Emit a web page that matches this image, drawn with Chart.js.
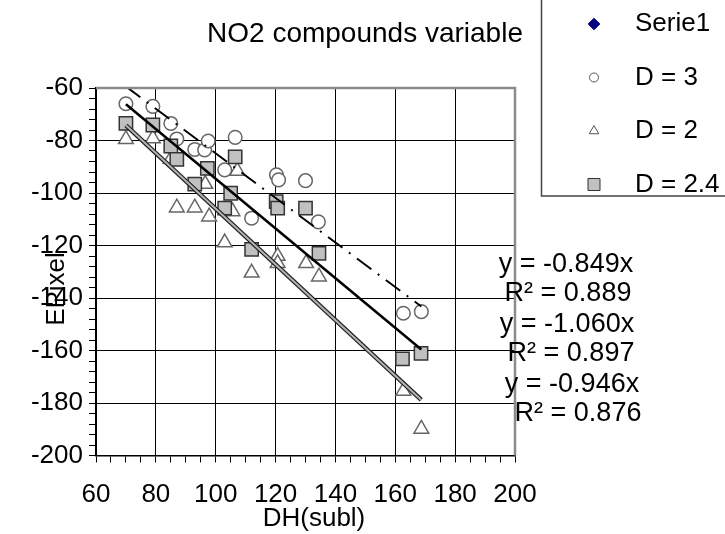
<!DOCTYPE html>
<html lang="en">
<head>
<meta charset="UTF-8">
<title>NO2 compounds variable</title>
<script src="https://cdn.jsdelivr.net/npm/chart.js"></script>
<style>
  html, body { margin: 0; padding: 0; background: #fff; }
  canvas { display: block; }
</style>
</head>
<body>
<canvas id="chart" width="725" height="534"></canvas>
<script>
// values
const xD3 = [70, 79, 85, 87, 93, 96.3, 97.5, 103, 106.5, 112, 120.3, 121, 130, 134.3, 162.7, 168.7];
const yD3 = [-66, -67, -73.5, -79.4, -83.4, -83.6, -80.2, -91.2, -78.8, -109.6, -93.1, -95, -95.3, -111, -145.8, -145.2];

const xD2 = [70, 79, 85, 87, 93, 96.5, 97.8, 103, 105.6, 107.2, 112, 120.7, 120.7, 130.2, 134.5, 162.7, 168.7];
const yD2 = [-79.5, -79.2, -87, -105.6, -105.6, -96.6, -109, -118.9, -107, -91.6, -130.4, -124, -126.8, -126.8, -131.9, -175.4, -189.9];

const xD24 = [70, 79, 85, 87, 93, 97.2, 103, 105, 106.5, 112, 120.2, 120.7, 130, 134.5, 162.4, 168.6];
const yD24 = [-73.5, -74.1, -82.1, -87.2, -96.6, -90.6, -105.8, -100.1, -86.2, -121.5, -103.3, -105.8, -105.8, -123, -163.2, -161.1];

// trendlines through the origin (slopes as printed on the chart)
const fitX = [70, 168.7];
const slopes = [-0.849, -1.060, -0.946];
const r2 = [0.889, 0.897, 0.876];

const xTicks = [60, 80, 100, 120, 140, 160, 180, 200];
const yTicks = [-60, -80, -100, -120, -140, -160, -180, -200];

const FONT = '"Liberation Sans", Arial, sans-serif';

function pts(xs, ys) { return xs.map((x, i) => ({x: x, y: ys[i]})); }
function fitLine(k) { return fitX.map(x => ({x: x, y: slopes[k] * x})); }

const legendItems = [
  { text: 'Serie1', style: 'rectRot', r: 5.8, fill: '#000080', stroke: '#000080' },
  { text: 'D = 3', style: 'circle', r: 4.5, fill: '#fff', stroke: '#555' },
  { text: 'D = 2', style: 'triangle', r: 5.5, fill: '#fff', stroke: '#555' },
  { text: 'D = 2.4', style: 'rect', r: 8.5, fill: '#c0c0c0', stroke: '#333' }
];

const extras = {
  id: 'extras',
  afterDraw(chart) {
    const ctx = chart.ctx;
    const a = chart.chartArea;
    ctx.save();
    // grey top/right frame
    ctx.strokeStyle = '#8c8c8c';
    ctx.lineWidth = 2.5;
    ctx.beginPath();
    ctx.moveTo(a.left, a.top);
    ctx.lineTo(a.right, a.top);
    ctx.lineTo(a.right, a.bottom);
    ctx.stroke();

    ctx.fillStyle = '#000';
    ctx.textBaseline = 'middle';
    ctx.textAlign = 'center';
    ctx.font = '28px ' + FONT;
    ctx.fillText('NO2 compounds variable', 365, 34);

    ctx.font = '26px ' + FONT;
    // axis titles
    ctx.fillText('DH(subl)', 314, 519);
    ctx.save();
    ctx.translate(57, 289);
    ctx.rotate(-Math.PI / 2);
    ctx.fillText('EPixel', 0, 0);
    ctx.restore();

    // legend box
    ctx.strokeStyle = '#444';
    ctx.lineWidth = 1.5;
    ctx.beginPath();
    ctx.moveTo(541.5, 0);
    ctx.lineTo(541.5, 196);
    ctx.lineTo(725, 196);
    ctx.stroke();
    legendItems.forEach((it, i) => {
      const y = 24 + i * 53.5;
      ctx.fillStyle = it.fill;
      ctx.strokeStyle = it.stroke;
      ctx.lineWidth = 1;
      Chart.helpers.drawPoint(ctx, {pointStyle: it.style, radius: it.r, rotation: 0, borderWidth: 1}, 594, y);
      ctx.fillStyle = '#000';
      ctx.textAlign = 'left';
      ctx.fillText(it.text, 635, y);
    });

    // trendline equations
    const eqX = [566, 567, 572];
    const eqY = [265, 325, 385];
    ctx.textAlign = 'center';
    ctx.font = '27px ' + FONT;
    slopes.forEach((s, i) => {
      ctx.fillText('y = ' + s.toFixed(3) + 'x', eqX[i], eqY[i]);
      ctx.fillText('R\u00b2 = ' + r2[i].toFixed(3), eqX[i] + 2 + i * 2, eqY[i] + 29);
    });
    ctx.restore();
  }
};

const ctx = document.getElementById('chart').getContext('2d');
new Chart(ctx, {
  type: 'scatter',
  data: {
    datasets: [
      { label: 'Serie1', data: [], pointStyle: 'rectRot', backgroundColor: '#000080', borderColor: '#000080', order: 10 },
      { label: 'D = 3', data: pts(xD3, yD3), pointStyle: 'circle', pointRadius: 6.8,
        backgroundColor: '#fff', borderColor: '#666', borderWidth: 1.5, order: 10 },
      { label: 'D = 2', data: pts(xD2, yD2), pointStyle: 'triangle', pointRadius: 8.5,
        backgroundColor: '#fff', borderColor: '#666', borderWidth: 1.5, order: 10 },
      { label: 'D = 2.4', data: pts(xD24, yD24), pointStyle: 'rect', pointRadius: 9.4,
        backgroundColor: '#c0c0c0', borderColor: '#333', borderWidth: 1.5, order: 9 },
      { label: 'fit3', data: fitLine(0), showLine: true, pointRadius: 0, borderColor: '#000',
        borderWidth: 2, borderDash: [18, 8, 2, 8], order: 3 },
      { label: 'fit2out', data: fitLine(1), showLine: true, pointRadius: 0, borderColor: '#222',
        borderWidth: 4.5, order: 5 },
      { label: 'fit2in', data: fitLine(1), showLine: true, pointRadius: 0, borderColor: '#b4b4b4',
        borderWidth: 2, order: 4 },
      { label: 'fit24', data: fitLine(2), showLine: true, pointRadius: 0, borderColor: '#000',
        borderWidth: 2.5, order: 3 }
    ]
  },
  options: {
    responsive: false,
    animation: false,
    events: [],
    layout: { padding: { top: 88, right: 210, left: 0, bottom: 0 } },
    plugins: { legend: { display: false }, tooltip: { enabled: false } },
    scales: {
      x: {
        type: 'linear', min: 60, max: 200,
        afterFit: s => { s.height = 78.5; },
        ticks: {
          stepSize: 5, autoSkip: false, maxRotation: 0, padding: 17,
          color: '#000', font: { family: FONT, size: 26 },
          callback: v => xTicks.includes(v) ? v : ''
        },
        grid: {
          color: c => (c.tick && c.tick.value % 20 === 0) ? '#000' : 'rgba(0,0,0,0)',
          tickColor: '#000', tickLength: 7, lineWidth: 1
        },
        border: { color: '#000', width: 1.5 }
      },
      y: {
        type: 'linear', min: -200, max: -60,
        afterFit: s => { s.width = 96; },
        ticks: {
          stepSize: 4, autoSkip: false, padding: 6,
          color: '#000', font: { family: FONT, size: 26 },
          callback: v => yTicks.includes(v) ? v : ''
        },
        grid: {
          color: c => (c.tick && c.tick.value % 20 === 0) ? '#000' : 'rgba(0,0,0,0)',
          tickColor: '#000', tickLength: 7, lineWidth: 1
        },
        border: { color: '#000', width: 1.5 }
      }
    }
  },
  plugins: [extras]
});
</script>
</body>
</html>
